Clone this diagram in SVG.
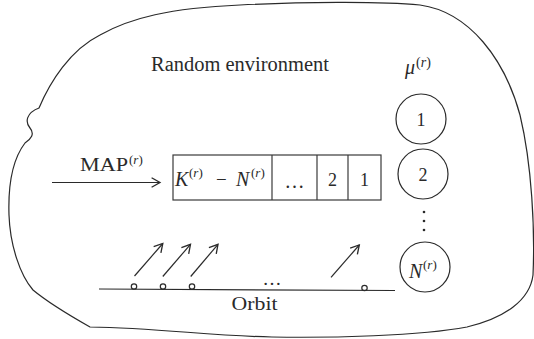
<svg xmlns="http://www.w3.org/2000/svg" width="534" height="339" viewBox="0 0 534 339" font-family="'Liberation Serif', 'DejaVu Serif', serif">
<style>
text{font-family:'Liberation Serif','DejaVu Serif',serif;fill:#2a2a2a}
.i{font-style:italic}
.ln{stroke:#2a2a2a;stroke-width:1.2;fill:none}
.bx{stroke:#3a3a3a;stroke-width:1.2;fill:#fff}
</style>
<defs>
<marker id="ah" markerWidth="12" markerHeight="12" refX="0" refY="0" viewBox="-8 -5 10 10" orient="auto" markerUnits="userSpaceOnUse">
<path d="M -7,-4 L 0,0 L -7,4" fill="none" stroke="#2a2a2a" stroke-width="1.1"/>
</marker>
</defs>
<g id="environment">
<path class="ln" d="M 39,108 C 50,82 70,50 100,35 C 130,18 170,8 240,5 C 300,2 380,1 420,5 C 470,12 505,60 520,115 C 532,165 535,230 533,275 C 530,300 505,318 467,327 C 420,336 330,338 272,337 C 210,336 160,328 90,327 C 60,310 45,300 33,290 C 20,275 10,245 9,215 C 8,185 12,160 25,143 C 31,139 35,134 30,128 C 25,122 26,113 39,108 Z"/>
<text x="151" y="71" font-size="20" textLength="178" lengthAdjust="spacingAndGlyphs">Random environment</text>
</g>
<g id="mu-label">
<text class="i" x="405" y="74" font-size="20">μ</text>
<text x="416" y="67" font-size="14">(<tspan class="i">r</tspan>)</text>
</g>
<g id="map-label">
<text x="80" y="171" font-size="19" textLength="48" lengthAdjust="spacingAndGlyphs">MAP</text>
<text x="129" y="164" font-size="13">(<tspan class="i">r</tspan>)</text>
</g>
<g id="queue">
<rect class="bx" x="173" y="155" width="208" height="45"/>
<line class="bx" x1="272" y1="155" x2="272" y2="200"/>
<line class="bx" x1="317" y1="155" x2="317" y2="200"/>
<line class="bx" x1="348" y1="155" x2="348" y2="200"/>
<text class="i" x="175" y="186" font-size="20">K</text>
<text x="189" y="177" font-size="13">(<tspan class="i">r</tspan>)</text>
<text x="216" y="186" font-size="19">−</text>
<text class="i" x="236" y="186" font-size="20">N</text>
<text x="251" y="177" font-size="13">(<tspan class="i">r</tspan>)</text>
<text x="294.5" y="188" font-size="20" text-anchor="middle">…</text>
<text x="332.5" y="186" font-size="18" text-anchor="middle">2</text>
<text x="364.5" y="186" font-size="18" text-anchor="middle">1</text>
</g>
<g id="server-1">
<circle class="ln" cx="421" cy="119" r="25"/>
<text x="421" y="126" font-size="18" text-anchor="middle">1</text>
</g>
<g id="server-2">
<circle class="ln" cx="423" cy="174" r="25"/>
<text x="423" y="181" font-size="18" text-anchor="middle">2</text>
</g>
<g id="server-dots" fill="#2a2a2a">
<circle cx="424" cy="212" r="1.3"/>
<circle cx="424" cy="221" r="1.3"/>
<circle cx="424" cy="230" r="1.3"/>
</g>
<g id="server-N">
<circle class="ln" cx="425" cy="267" r="25"/>
<text class="i" x="409" y="278" font-size="20">N</text>
<text x="423" y="269" font-size="13">(<tspan class="i">r</tspan>)</text>
</g>
<g id="orbit">
<line class="ln" x1="99" y1="289" x2="395" y2="290.5"/>
<circle class="ln" cx="134" cy="286.5" r="2.7" fill="#fff" stroke-width="1"/>
<circle class="ln" cx="163" cy="286.5" r="2.7" fill="#fff" stroke-width="1"/>
<circle class="ln" cx="192" cy="286.5" r="2.7" fill="#fff" stroke-width="1"/>
<circle class="ln" cx="364.5" cy="288" r="2.7" fill="#fff" stroke-width="1"/>
<text x="272" y="285" font-size="19" text-anchor="middle">…</text>
<text x="231.5" y="309.5" font-size="19" textLength="46" lengthAdjust="spacingAndGlyphs">Orbit</text>
</g>
<g id="connectors">
<line class="ln" x1="52" y1="182.5" x2="160" y2="182.5" marker-end="url(#ah)"/>
<line class="ln" x1="134.5" y1="276" x2="162.8" y2="243.5" marker-end="url(#ah)"/>
<line class="ln" x1="162.8" y1="276.5" x2="190.5" y2="244.3" marker-end="url(#ah)"/>
<line class="ln" x1="190.7" y1="276.5" x2="218" y2="244.3" marker-end="url(#ah)"/>
<line class="ln" x1="331" y1="277.3" x2="359.3" y2="245" marker-end="url(#ah)"/>
</g>
</svg>
